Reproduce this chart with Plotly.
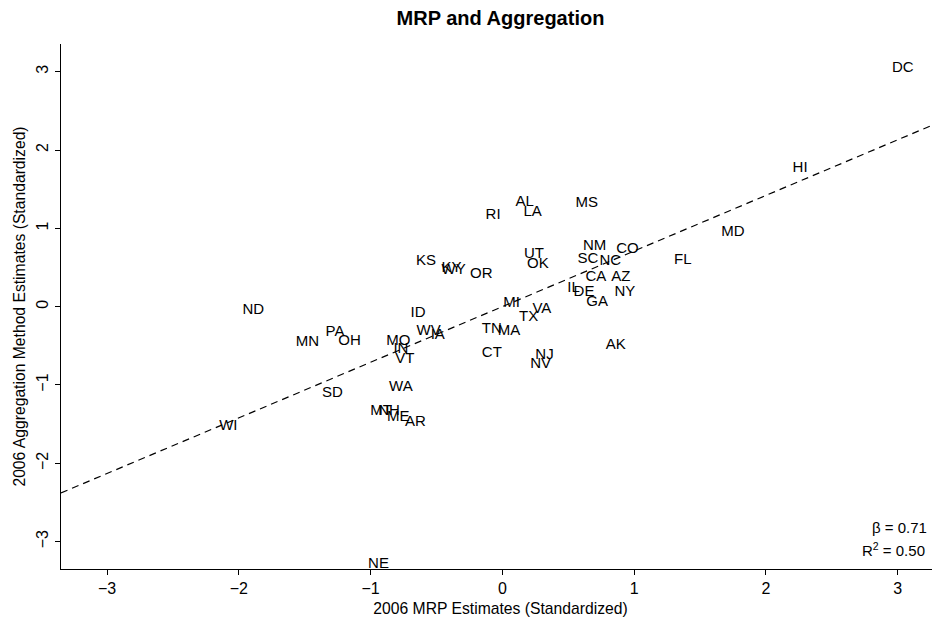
import plotly.graph_objects as go

# state labels and standardized estimates
states = ["DC", "HI", "MD", "FL", "CO", "NC", "SC", "NM", "CA", "AZ", "NY", "IL", "DE",
          "GA", "AK", "MS", "AL", "LA", "RI", "UT", "OK", "MI", "VA", "TX", "TN", "MA",
          "CT", "NJ", "NV", "KS", "KY", "WY", "OR", "ID", "WV", "IA", "MO", "IN", "VT",
          "ND", "MN", "PA", "OH", "SD", "WA", "MT", "NH", "ME", "AR", "WI", "NE"]
mrp = [3.04, 2.26, 1.75, 1.37, 0.95, 0.82, 0.65, 0.70, 0.71, 0.90, 0.93, 0.54, 0.62,
       0.72, 0.86, 0.64, 0.17, 0.23, -0.07, 0.24, 0.27, 0.07, 0.30, 0.20, -0.08, 0.05,
       -0.08, 0.32, 0.29, -0.58, -0.385, -0.37, -0.16, -0.64, -0.56, -0.49, -0.79, -0.77,
       -0.74, -1.89, -1.48, -1.27, -1.16, -1.29, -0.77, -0.92, -0.86, -0.79, -0.66,
       -2.08, -0.94]
aggregation = [3.05, 1.77, 0.95, 0.59, 0.73, 0.58, 0.60, 0.77, 0.37, 0.37, 0.19, 0.23,
               0.18, 0.06, -0.49, 1.32, 1.33, 1.21, 1.17, 0.67, 0.54, 0.04, -0.03, -0.14,
               -0.29, -0.32, -0.59, -0.62, -0.74, 0.58, 0.49, 0.47, 0.41, -0.08, -0.32,
               -0.36, -0.44, -0.54, -0.67, -0.04, -0.45, -0.33, -0.44, -1.10, -1.03,
               -1.33, -1.33, -1.41, -1.47, -1.53, -3.29]
tick_vals = [-3, -2, -1, 0, 1, 2, 3]
beta = 0.71
r_squared = 0.50

x_range = [-3.35, 3.322]
y_range = [-3.35, 3.354]
font = "Liberation Sans, Arial, Helvetica, sans-serif"

fig = go.Figure()

# regression line across the whole plotting region
fig.add_trace(go.Scatter(
    x=x_range,
    y=[beta * v for v in x_range],
    mode="lines",
    line=dict(color="black", width=1.2, dash="7px,5px"),
    hoverinfo="skip",
))

# state abbreviations as the plotted points
fig.add_trace(go.Scatter(
    x=mrp,
    y=aggregation,
    mode="text",
    text=states,
    textposition="middle center",
    textfont=dict(family=font, size=15, color="black"),
    cliponaxis=False,
))

fig.add_annotation(
    xref="paper", yref="paper", x=0.987, y=0.08,
    text=f"β = {beta:.2f}", showarrow=False,
    xanchor="right", yanchor="middle",
    font=dict(family=font, size=15, color="black"),
)
fig.add_annotation(
    xref="paper", yref="paper", x=0.985, y=0.038,
    text=f"R<sup>2</sup> = {r_squared:.2f}", showarrow=False,
    xanchor="right", yanchor="middle",
    font=dict(family=font, size=15, color="black"),
)

axis_common = dict(
    tickvals=tick_vals,
    ticks="outside",
    ticklen=5,
    tickwidth=1,
    tickcolor="black",
    showline=True,
    linecolor="black",
    linewidth=1.2,
    showgrid=False,
    zeroline=False,
    automargin=False,
    tickfont=dict(family=font, size=16, color="black"),
)

# the page body adds an 8px offset, so the figure is 8px smaller on each axis
fig.update_layout(
    width=932,
    height=616,
    margin=dict(l=53, r=0, t=36, b=55, autoexpand=False),
    paper_bgcolor="white",
    plot_bgcolor="white",
    showlegend=False,
    title=dict(
        text="<b>MRP and Aggregation</b>",
        x=0.5, xref="paper", xanchor="center",
        y=1 - 10 / 616, yref="container", yanchor="middle",
        automargin=False,
        font=dict(family=font, size=20, color="black"),
    ),
    xaxis=dict(
        range=x_range,
        title=dict(text="2006 MRP Estimates (Standardized)", standoff=6,
                   font=dict(family=font, size=15.7, color="black")),
        **axis_common,
    ),
    yaxis=dict(
        range=y_range,
        tickangle=-90,
        ticklabelstandoff=1,
        title=dict(text="2006 Aggregation Method Estimates (Standardized)", standoff=4,
                   font=dict(family=font, size=15.7, color="black")),
        **axis_common,
    ),
)

fig.write_html("out.html")
